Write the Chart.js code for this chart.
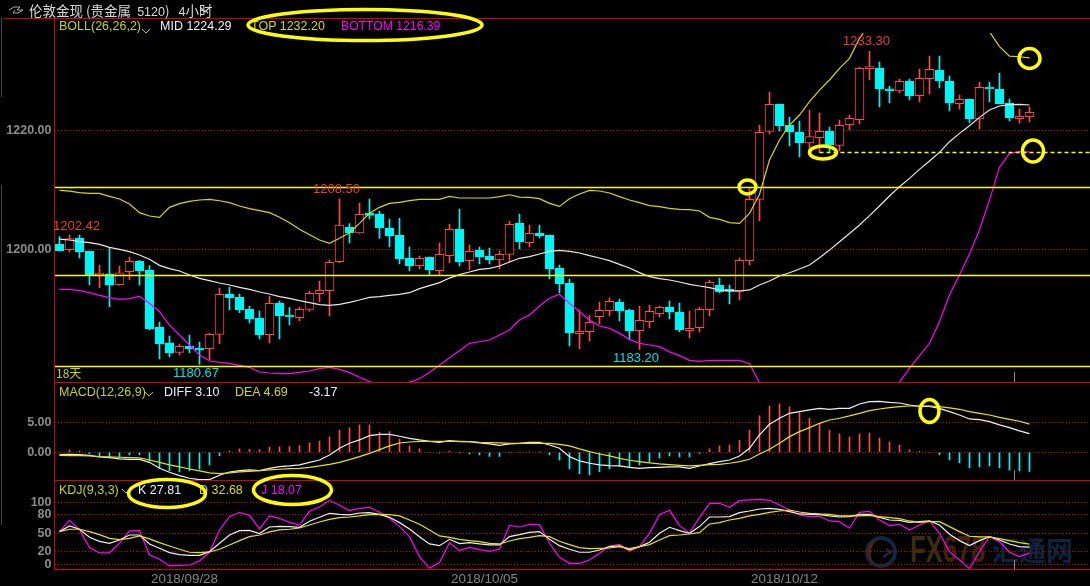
<!DOCTYPE html>
<html>
<head>
<meta charset="utf-8">
<title>伦敦金现</title>
<script src="https://cdn.jsdelivr.net/npm/chart.js@4"></script>
<style>
  html, body { margin: 0; padding: 0; background: #000; overflow: hidden; }
  #page { position: relative; width: 1090px; height: 586px; background: #000; font-family: 'Liberation Sans', 'Noto Sans CJK SC', sans-serif; overflow: hidden; }
  canvas { position: absolute; left: 0; }
  .t { position: absolute; white-space: pre; font-size: 12.5px; line-height: 14px; }
  .rule { position: absolute; background: #d40000; }
  .cursor { position: absolute; left: 1014px; width: 1px; background: #888; }
  .side { position: absolute; left: 1px; width: 1px; background: #444; }
  .lime { color: #c4d600; } .white { color: #e8f0ff; } .yellow { color: #d8d800; } .magenta { color: #ff00ff; }
  .red { color: #e83c3c; font-size: 13px; } .cyan { color: #00e0e8; font-size: 13px; }
  svg { position: absolute; left: 0; top: 0; pointer-events: none; }
</style>
</head>
<body>
<div id="page">
  <!-- watermark sits under the transparent canvases -->
  <svg width="1090" height="586">
    <circle cx="881" cy="552" r="14" fill="none" stroke="#14263f" stroke-width="4"/>
    <path d="M880 538 A14 14 0 0 0 874 564 A18 18 0 0 1 880 538" fill="#4a2410"/>
    <path d="M886 549 l5 3 l-8 5" fill="none" stroke="#22304a" stroke-width="2"/>
  </svg>
  <div class="t" style="left:910px;top:532px;font-size:36px;line-height:36px;font-weight:bold;color:#3a2c10;transform:scaleX(.71);transform-origin:0 0">FX<span style="color:#431f0e">678</span></div>
  <div class="t" style="left:992px;top:534px;font-size:27px;line-height:32px;font-weight:bold;color:#10233c;font-family:'Noto Sans CJK SC'">汇通网</div>

  <canvas id="mainChart" width="1090" height="349" style="top:33px"></canvas>
  <canvas id="macdChart" width="1090" height="98" style="top:382px"></canvas>
  <canvas id="kdjChart" width="1090" height="106" style="top:480px"></canvas>

  <div class="rule" style="left:4px;top:18px;width:1086px;height:1px"></div>
  <div class="rule" style="left:54px;top:18px;width:1px;height:552px"></div>
  <div class="rule" style="left:54px;top:382px;width:1036px;height:1px"></div>
  <div class="rule" style="left:54px;top:480px;width:1036px;height:1px"></div>
  <div class="rule" style="left:54px;top:569px;width:1036px;height:1px"></div>
  <div class="cursor" style="top:372px;height:10px"></div>
  <div class="cursor" style="top:470px;height:10px"></div>
  <div class="cursor" style="top:560px;height:9px"></div>
  <div class="side" style="top:18px;height:79px"></div>
  <div class="side" style="top:185px;height:340px"></div>

  <div class="t" style="left:29px;top:1px;font-size:13.5px;line-height:18px;color:#d8d8d8;font-family:'Noto Sans CJK SC'">伦敦金现 (贵金属  <span style="font-family:'Liberation Sans';font-size:12.5px">5120</span>)   <span style="font-family:'Liberation Sans';font-size:12.5px">4</span>小时</div>

  <div class="t lime" style="left:59px;top:19px">BOLL(26,26,2)</div>
  <div class="t white" style="left:160px;top:19px">MID 1224.29</div>
  <div class="t yellow" style="left:251px;top:19px">TOP 1232.20</div>
  <div class="t magenta" style="left:341px;top:19px;font-size:12.2px">BOTTOM 1216.39</div>

  <div class="t lime" style="left:59px;top:385px">MACD(12,26,9)</div>
  <div class="t white" style="left:164px;top:385px">DIFF 3.10</div>
  <div class="t yellow" style="left:235px;top:385px">DEA 4.69</div>
  <div class="t white" style="left:309px;top:385px">-3.17</div>

  <div class="t lime" style="left:59px;top:483px">KDJ(9,3,3)</div>
  <div class="t white" style="left:138px;top:483px">K 27.81</div>
  <div class="t yellow" style="left:199px;top:483px">D 32.68</div>
  <div class="t magenta" style="left:261px;top:483px">J 18.07</div>

  <div class="t lime" style="left:56px;top:366px;font-family:'Noto Sans CJK SC';font-size:12px">18天</div>
  <div class="t red" style="left:53px;top:219px">1202.42</div>
  <div class="t red" style="left:313px;top:182px">1208.50</div>
  <div class="t red" style="left:843px;top:34px">1233.30</div>
  <div class="t cyan" style="left:173px;top:366px">1180.67</div>
  <div class="t cyan" style="left:613px;top:351px">1183.20</div>

  <svg width="1090" height="586">
    <polyline points="9,10 14,7 20,7 17,10 23,10 18,13 13,13 15,10" fill="none" stroke="#aaa" stroke-width="1"/>
    <polyline points="200,7 205,12 210,7" fill="none" stroke="#d8d8d8" stroke-width="1.2"/>
    <polyline points="142,29 146,33 150,29" fill="none" stroke="#c4d600" stroke-width="1"/>
    <polyline points="145,392 149,396 153,392" fill="none" stroke="#c4d600" stroke-width="1"/>
    <polyline points="122,489 126,493 130,489" fill="none" stroke="#c4d600" stroke-width="1"/>
    <g fill="none" stroke="#ffff00" stroke-width="3.5">
      <ellipse cx="365" cy="25" rx="117" ry="15.5"/>
      <ellipse cx="167" cy="493.5" rx="38.5" ry="14"/>
      <ellipse cx="292.5" cy="490" rx="39" ry="14.5"/>
      <ellipse cx="929.5" cy="411" rx="9.5" ry="11.5"/>
      <ellipse cx="747.5" cy="187" rx="8.5" ry="7"/>
      <ellipse cx="823" cy="152.5" rx="13.5" ry="6.5"/>
      <ellipse cx="1029.5" cy="58.5" rx="10.5" ry="10"/>
      <ellipse cx="1033" cy="151" rx="10.5" ry="11"/>
    </g>
  </svg>

  <script>
    const dateTicks = [12.5, 42.5, 72.5];
    const dateLabels = ['2018/09/28', '2018/10/05', '2018/10/12'];
    const priceTicks = [1200, 1220];
    const macdTicks = [0, 5];
    const kdjTicks = [0, 20, 50, 80, 100];

    const opens = [1200.92,1199.97,1201.93,1199.75,1195.71,1195.9,1194.1,1196.27,1198,1196.55,
      1186.97,1184.3,1182.72,1183.78,1183.44,1183.33,1185.74,1192.52,1191.96,1189.94,
      1188.49,1185.69,1191,1188.99,1188.54,1189.94,1192.58,1193.08,1197.96,1203.78,
      1202.77,1206.13,1205.97,1203.61,1202.44,1198.57,1197.28,1198.74,1196.44,1198.96,
      1203.45,1198.12,1199.9,1198.9,1198.23,1199.19,1204.45,1201.15,1202.77,1202.44,
      1196.89,1194.37,1185.85,1186.19,1188.71,1189.72,1191.18,1189.83,1186.36,1187.87,
      1189.2,1190.33,1189.5,1186.36,1186.86,1189.88,1194.03,1193.2,1192.97,1198.12,
      1208.43,1219.86,1224.45,1220.92,1219.75,1217.9,1218.8,1219.92,1217.5,1220.98,
      1221.82,1230.39,1230.5,1226.97,1226.64,1228.32,1225.85,1228.71,1230.17,1228.32,
      1224.5,1225.3,1221.94,1227.31,1226.97,1224.62,1222,1222.33];
    const closes = [1199.75,1201.82,1199.58,1195.71,1195.83,1194,1196.1,1198,1196.4,1186.64,
      1184.12,1182.6,1183.73,1183.33,1183.1,1185.74,1192.47,1191.9,1189.83,1188.32,
      1185.63,1190.95,1188.82,1188.66,1189.94,1192.63,1193.14,1197.84,1204.12,1202.77,
      1205.91,1205.74,1203.61,1202.27,1198.4,1197.23,1198.52,1196.55,1199.19,1203.39,
      1197.9,1199.69,1198.74,1198.23,1199.19,1204.23,1201.26,1202.72,1202.27,1196.72,
      1194.2,1185.97,1186.25,1187.76,1189.78,1191.29,1189.66,1186.3,1188.1,1189.6,
      1190.27,1189.5,1186.47,1186.75,1189.94,1194.48,1192.91,1192.97,1198.18,1208.43,
      1219.69,1224.4,1220.76,1219.75,1217.9,1218.96,1219.86,1217.56,1220.87,1222.05,
      1230.45,1230.62,1226.97,1226.69,1228.26,1225.8,1228.77,1230.28,1228.32,1224.62,
      1225.24,1221.94,1227.26,1226.97,1224.45,1222.1,1222.39,1223.05];
    const highs = [1202.16,1202.42,1202.42,1199.75,1197.4,1200.36,1197.2,1198.7,1198.2,1197.3,
      1187.8,1185.46,1184.12,1185.63,1184.45,1185.9,1193.53,1193.7,1192.52,1190.45,
      1189.66,1192.18,1191.34,1190.22,1190.33,1192.97,1194.7,1198.18,1208.5,1204.34,
      1207.8,1208.49,1206.47,1205.13,1205.24,1200.42,1198.91,1198.74,1201.09,1204.29,
      1206.8,1200.76,1200.42,1200.25,1199.75,1204.73,1205.97,1204.12,1204.12,1202.44,
      1197.4,1195.04,1189.83,1188.93,1191.18,1191.85,1191.68,1190,1190.5,1190.67,
      1190.5,1191.34,1191,1189.66,1190.33,1194.87,1195.21,1194.03,1198.57,1210.2,
      1220.92,1226.47,1224.45,1222.2,1221.6,1223.44,1222.94,1220.59,1221.76,1222.6,
      1230.67,1233.3,1231.5,1227.48,1228.66,1228.66,1230.34,1232.52,1232.52,1229.16,
      1225.97,1225.3,1228.15,1228.15,1229.67,1225.3,1223.6,1223.95];
    const lows = [1199.75,1199.58,1198.57,1194.03,1193.6,1190.4,1194,1194.87,1194,1186.47,
      1181.6,1181.93,1182.27,1182.66,1180.67,1181.43,1184.12,1189.83,1189.38,1187.65,
      1184.96,1184.29,1184.96,1187.31,1187.98,1189.6,1191.18,1188.82,1197.79,1201.09,
      1202.7,1205.13,1201.88,1200.42,1197.56,1196.39,1196.72,1195.71,1195.71,1197.73,
      1197.23,1196.55,1197.56,1197.56,1196.72,1197.9,1200.08,1200.42,1201.93,1195.04,
      1192.69,1183.78,1183.28,1184.62,1187.48,1188.82,1187.98,1184.79,1183.2,1186.8,
      1188.66,1188.32,1186.14,1185.12,1186.14,1188.82,1192.69,1190.84,1191.51,1197.39,
      1204.85,1219.41,1219.92,1217.4,1215.55,1216.72,1216.33,1216.5,1216.55,1220.08,
      1221.15,1228.49,1223.95,1224.62,1226.3,1225.13,1224.8,1226.14,1227.14,1223.28,
      1223.6,1221.26,1220.25,1224.79,1224.45,1221.6,1221.26,1221.43];

    const bollTop = [1209.95,1209.8,1209.55,1209.44,1209.44,1208.94,1208.49,1207.65,1206.2,1205.63,
      1205.41,1207.09,1207.7,1208.1,1208.32,1208.43,1208.2,1207.87,1207.31,1206.86,
      1206.53,1206.19,1205.41,1204.51,1203.39,1202.49,1201.6,1201.04,1201.88,1202.83,
      1204.4,1206.08,1207.09,1207.76,1207.93,1208.2,1208.43,1208.43,1208.43,1208.94,
      1208.66,1208.66,1208.66,1208.66,1208.88,1209.2,1208.82,1208.77,1208.54,1207.76,
      1207.25,1208.54,1209.33,1209.94,1209.83,1209.5,1208.88,1208.32,1207.87,1207.37,
      1207.2,1206.9,1206.75,1206.7,1206.47,1205.4,1205.07,1204.51,1204.4,1206.08,
      1209.3,1215.04,1218.4,1220.92,1222.6,1224.85,1226.8,1228.49,1230.45,1232.13,
      1235.5,1238,1239,1239.6,1240,1240.2,1240.2,1240,1239.8,1239.6,
      1239.4,1239.2,1238.4,1236.6,1234.1,1232.5,1232.4,1232.2];
    const bollMid = [1201.76,1201.6,1201.32,1201.15,1200.87,1200.36,1200.03,1199.64,1199.08,1198.35,
      1197.34,1196.78,1196.39,1195.71,1195.15,1194.76,1194.37,1194.03,1193.64,1193.3,
      1192.86,1192.52,1192.07,1191.79,1191.4,1191.06,1190.73,1190.62,1190.78,1191.12,
      1191.51,1191.96,1192.07,1192.3,1192.47,1192.74,1193.42,1193.92,1194.43,1195.2,
      1195.77,1196.22,1196.67,1196.83,1197.23,1197.9,1198.52,1198.8,1199.24,1199.69,
      1199.86,1199.69,1199.41,1198.96,1198.57,1198.12,1197.5,1196.89,1196.11,1195.43,
      1195.1,1194.87,1194.54,1194.15,1193.87,1193.59,1193.2,1193.03,1193.03,1193.2,
      1194.03,1194.7,1195.55,1196.1,1196.72,1197.4,1198.63,1199.9,1201.3,1202.7,
      1204.12,1205.69,1207.31,1208.99,1210.56,1211.96,1213.47,1214.87,1216.33,1218.12,
      1219.52,1220.81,1222.21,1223.45,1224.12,1224.34,1224.4,1224.29];
    const bollBottom = [1193.3,1193.3,1193.08,1192.75,1192.3,1191.9,1191.62,1191.74,1192.13,1190.95,
      1189.55,1187.3,1185.63,1183.95,1182.27,1181.26,1181.04,1180.87,1180.53,1180.2,
      1179.41,1179.24,1179.13,1179.13,1179.35,1179.58,1179.97,1180.2,1179.86,1179.3,
      1178.52,1177.79,1177.2,1177,1177.3,1177.7,1178.28,1179.35,1180.53,1181.82,
      1183,1184.23,1184.5,1184.79,1185.63,1186.47,1188.15,1189,1190.5,1191.8,
      1192.47,1190.95,1189.55,1188.15,1187.14,1186.75,1185.9,1184.9,1184.23,1183.95,
      1183.67,1182.8,1182.16,1181.37,1181.2,1181.37,1181.37,1181.37,1181.37,1180.8,
      1177.6,1175,1172,1170,1168,1167,1166,1167,1168,1169,
      1170,1172,1174,1176,1177.7,1180.03,1182.15,1184.24,1187.87,1192.35,
      1195.71,1199.24,1203.28,1208.3,1213.8,1216.16,1216.44,1216.39];
    // support / resistance levels the analyst drew on the price panel
    const levelPrices = [1210.42, 1195.63, 1180.34];
    const dashedLevel = 1216.3;
    const dashedFrom = 76;

    const diff = [-0.39,-0.33,-0.39,-0.5,-0.78,-0.89,-1.11,-1.17,-1.17,-1.67,
      -2.67,-3.33,-3.89,-4.33,-4.56,-4.56,-3.83,-3.28,-3.06,-2.94,
      -3.06,-2.67,-2.39,-2.28,-2.11,-1.67,-1.28,-0.44,0.67,1.5,
      2.06,2.78,3,3,2.67,2.33,2.06,1.83,1.67,1.94,
      1.78,1.78,1.56,1.39,1.17,1.39,1.5,1.67,1.67,1.22,
      0.67,-0.72,-1.44,-1.83,-2.11,-2.22,-2.28,-2.5,-2.67,-2.56,
      -2.5,-2.44,-2.44,-2.67,-2.28,-1.89,-1.56,-1.28,-0.61,0.67,
      2.89,4.67,5.67,6.5,6.78,7.06,7.33,7.17,7.33,7.33,
      8.06,8.44,8.5,8.33,8.22,7.89,7.67,7.67,7.33,6.78,
      6.22,5.56,5.44,5.11,4.56,4.11,3.56,3.1];
    const dea = [-0.5,-0.56,-0.56,-0.61,-0.72,-0.78,-0.83,-0.89,-0.94,-1.28,
      -1.67,-2.11,-2.44,-2.78,-3.11,-3.44,-3.56,-3.44,-3.28,-3.17,
      -3.06,-2.94,-2.83,-2.72,-2.67,-2.5,-2.28,-2,-1.67,-1.22,
      -0.72,-0.17,0.44,1.06,1.55,1.72,1.83,1.83,1.83,1.83,
      1.83,1.78,1.67,1.61,1.56,1.5,1.5,1.5,1.5,1.5,
      1.33,1.06,0.56,0.11,-0.28,-0.61,-1,-1.33,-1.56,-1.78,
      -1.94,-2.06,-2.17,-2.28,-2.17,-2.06,-2,-1.83,-1.56,-1.17,
      -0.28,0.5,1.5,2.61,3.44,4.11,4.83,5.39,5.67,6.06,
      6.5,6.94,7.22,7.44,7.61,7.72,7.72,7.72,7.61,7.39,
      7.17,6.78,6.5,6.22,5.83,5.5,5.17,4.69];
    const macdHist = [0,0.39,0.22,-0.22,-0.61,-0.89,-0.78,-0.44,-0.39,-1.44,
      -2.56,-3.06,-3.28,-3.06,-2.83,-2.11,-0.56,0.22,0.56,0.5,
      0.44,0.83,0.89,0.94,1.11,1.56,1.89,2.56,3.72,4.06,
      4.56,4.56,3.33,3.44,2.22,1.06,0.56,0,-0.11,0.22,
      -0.11,-0.28,-0.44,-0.67,-0.67,0,0,0.06,0.06,-0.44,
      -1.33,-2.78,-3.56,-3.78,-3.22,-2.78,-2.33,-2.56,-2.11,-1.67,
      -0.94,-0.61,-0.78,-0.78,-0.17,0.56,1.06,1.22,2,3.72,
      6.06,7.72,8.06,7.56,6.56,5.72,4.83,3.72,3.06,2.56,
      3.06,3.22,2.39,1.72,1.22,0.39,0.11,0,-0.44,-1.28,
      -1.78,-2.61,-2.44,-2.28,-2.61,-3,-3.11,-3.17];

    const kdjK = [52.7,61.8,56.5,43.5,37.1,33.9,39.2,47.3,47.3,32.8,
      25.8,18.8,15.6,14.5,14.5,20.4,33.9,47.3,54.3,54.8,
      49.5,60.2,61.3,60.8,59.7,69.4,75.8,82.3,80.6,79.6,
      82.8,83.3,80.6,75.8,67.2,57,44.6,32.8,30.1,40.3,
      33.3,34.9,32.8,31.2,31.2,44.6,47.8,51.6,52.7,40.3,
      30.1,24.2,19.4,19.4,23.1,28.5,29.6,23.1,28.5,35.5,
      50,59.7,54.3,50,60.8,76.3,76.3,76.9,83.3,86,
      89.2,90.3,88.7,84.9,81.2,80.6,80.1,78,76.3,76.9,
      80.6,80.6,75.8,71.5,71,67.7,68.8,69.9,63.4,48.4,
      38.2,30.1,38.2,44.6,39.2,32.8,28.5,27.81];
    const kdjD = [52.7,56.5,56.5,52.7,47.8,41.9,39.8,41.9,45.7,40.9,
      34.9,29.6,24.2,19.4,18.8,19.9,24.2,31.2,38.2,44.6,
      47.3,52.2,55.4,56.5,58.6,63.4,68.3,72.6,75.3,76.3,
      78,80.1,80.6,80.1,78,71.5,64.5,55.4,45.7,43.5,
      40.3,38.2,36.6,33.9,32.8,37.6,41.4,43.5,46.2,44.6,
      37.1,31.7,26.9,25.3,25.8,26.3,28.5,25.3,28.5,31.7,
      39.2,46.2,47.3,48.9,51.1,65,67.2,71.5,74.2,78,
      80.6,83.9,86,87.6,84.4,82.3,81.2,80.6,78,78,
      78,79,76.9,75.3,73.7,69.9,67.7,68.8,68.8,60.8,
      52.7,45.2,44.1,44.1,41.4,38.2,34.9,32.68];
    const kdjJ = [52.7,71,55.9,26.9,18.3,18.3,33.9,53.8,54.3,15.1,
      8.1,-2.7,-1.6,-1.1,5.4,19.4,55.4,76.9,83.9,79,
      57,78,74.2,67.7,63.4,85.5,92.5,103.2,95.2,86.6,
      90.3,91.9,83.9,74.2,60.8,44.6,12.4,-6.5,2.7,34.9,
      22,27.4,23.7,21,24.2,62.9,60.2,64.5,64,33.9,
      11.3,1.6,1.6,7,17.7,29.6,32.3,21.5,28.5,50,
      80.1,87.1,62.4,50.5,75.3,98.4,98.4,91.9,102.7,103.8,
      104.8,103.2,95.7,87.6,79.6,76.9,77.4,69.9,68.8,58.1,
      83.9,85.5,71.5,62.4,64.5,55.4,63.4,70.4,50,20.4,
      7,-7,20.4,44.6,36.6,19.4,12.4,18.07];

    const UP = '#ff4a4a';
    const DOWN = '#00f4f4';
    const xMin = -0.5, xMax = 103.05;
    const toPoints = arr => arr.map((v, i) => ({ x: i, y: v }));

    function lineSet(values, color, order) {
      return { type: 'line', data: toPoints(values), borderColor: color, borderWidth: 1.2, pointRadius: 0, tension: 0, order: order };
    }

    function levelSet(value, from, color, dash) {
      return { type: 'line', data: [{ x: from, y: value }, { x: xMax, y: value }], borderColor: color, borderWidth: 1.4, borderDash: dash, pointRadius: 0, order: 1 };
    }

    function xAxis(show) {
      return {
        type: 'linear', min: xMin, max: xMax, display: show, offset: false,
        grid: { display: false, offset: false, drawTicks: false }, border: { display: false },
        afterBuildTicks: s => { s.ticks = dateTicks.map(v => ({ value: v })); },
        ticks: { autoSkip: false, maxRotation: 0, padding: 2, color: '#848484', font: { family: 'Liberation Sans', size: 13.4 },
          callback: (v, i) => dateLabels[i] },
        afterFit: s => { s.height = show ? 16.5 : 0; s.paddingLeft = 0; s.paddingRight = 0; }
      };
    }

    function yAxis(min, max, tickValues, digits) {
      return {
        type: 'linear', min: min, max: max,
        afterBuildTicks: s => { s.ticks = tickValues.map(v => ({ value: v })); },
        grid: { color: '#c00000', lineWidth: 1, drawTicks: false },
        border: { display: false, dash: [1, 2] },
        ticks: { padding: 3, color: '#8c8c8c', font: { family: 'Liberation Sans', size: 12.5, weight: 'bold' },
          callback: v => v.toFixed(digits) },
        afterFit: s => { s.width = 54.5; s.paddingTop = 0; s.paddingBottom = 0; }
      };
    }

    function makeChart(id, datasets, showDates, y) {
      return new Chart(document.getElementById(id), {
        type: 'bar',
        data: { datasets: datasets },
        options: {
          responsive: false,
          animation: false,
          layout: { padding: 0 },
          plugins: { legend: { display: false }, tooltip: { enabled: false } },
          scales: { x: xAxis(showDates), y: y }
        }
      });
    }

    const isUp = i => closes[i] >= opens[i];

    makeChart('mainChart', [
      { data: lows.map((v, i) => ({ x: i, y: [v, highs[i]] })), barThickness: 1, grouped: false, order: 6,
        backgroundColor: lows.map((v, i) => isUp(i) ? UP : DOWN) },
      { data: opens.map((v, i) => ({ x: i, y: [v, closes[i]] })), barThickness: 9, grouped: false, order: 5, minBarLength: 2,
        backgroundColor: opens.map((v, i) => isUp(i) ? '#000' : DOWN),
        borderColor: opens.map((v, i) => isUp(i) ? UP : DOWN),
        borderWidth: 1, borderSkipped: false },
      lineSet(bollTop, '#d8d800', 3),
      lineSet(bollMid, '#e8e8e8', 3),
      lineSet(bollBottom, '#ff00ff', 3),
      ...levelPrices.map(v => levelSet(v, xMin, '#ffff00', [])),
      levelSet(dashedLevel, dashedFrom, '#ffff00', [4, 3])
    ], false, yAxis(1177.73, 1236.39, priceTicks, 2));

    makeChart('macdChart', [
      { data: toPoints(macdHist), barThickness: 1, grouped: false, order: 6,
        backgroundColor: macdHist.map(v => v >= 0 ? UP : DOWN) },
      lineSet(diff, '#f0f0f0', 3),
      lineSet(dea, '#e6e600', 2)
    ], false, yAxis(-4.62, 11.72, macdTicks, 2));

    makeChart('kdjChart', [
      lineSet(kdjJ, '#ff00ff', 4),
      lineSet(kdjK, '#f0f0f0', 3),
      lineSet(kdjD, '#e6e600', 2)
    ], true, yAxis(-8.4, 136, kdjTicks, 0));
  </script>
</div>
</body>
</html>
